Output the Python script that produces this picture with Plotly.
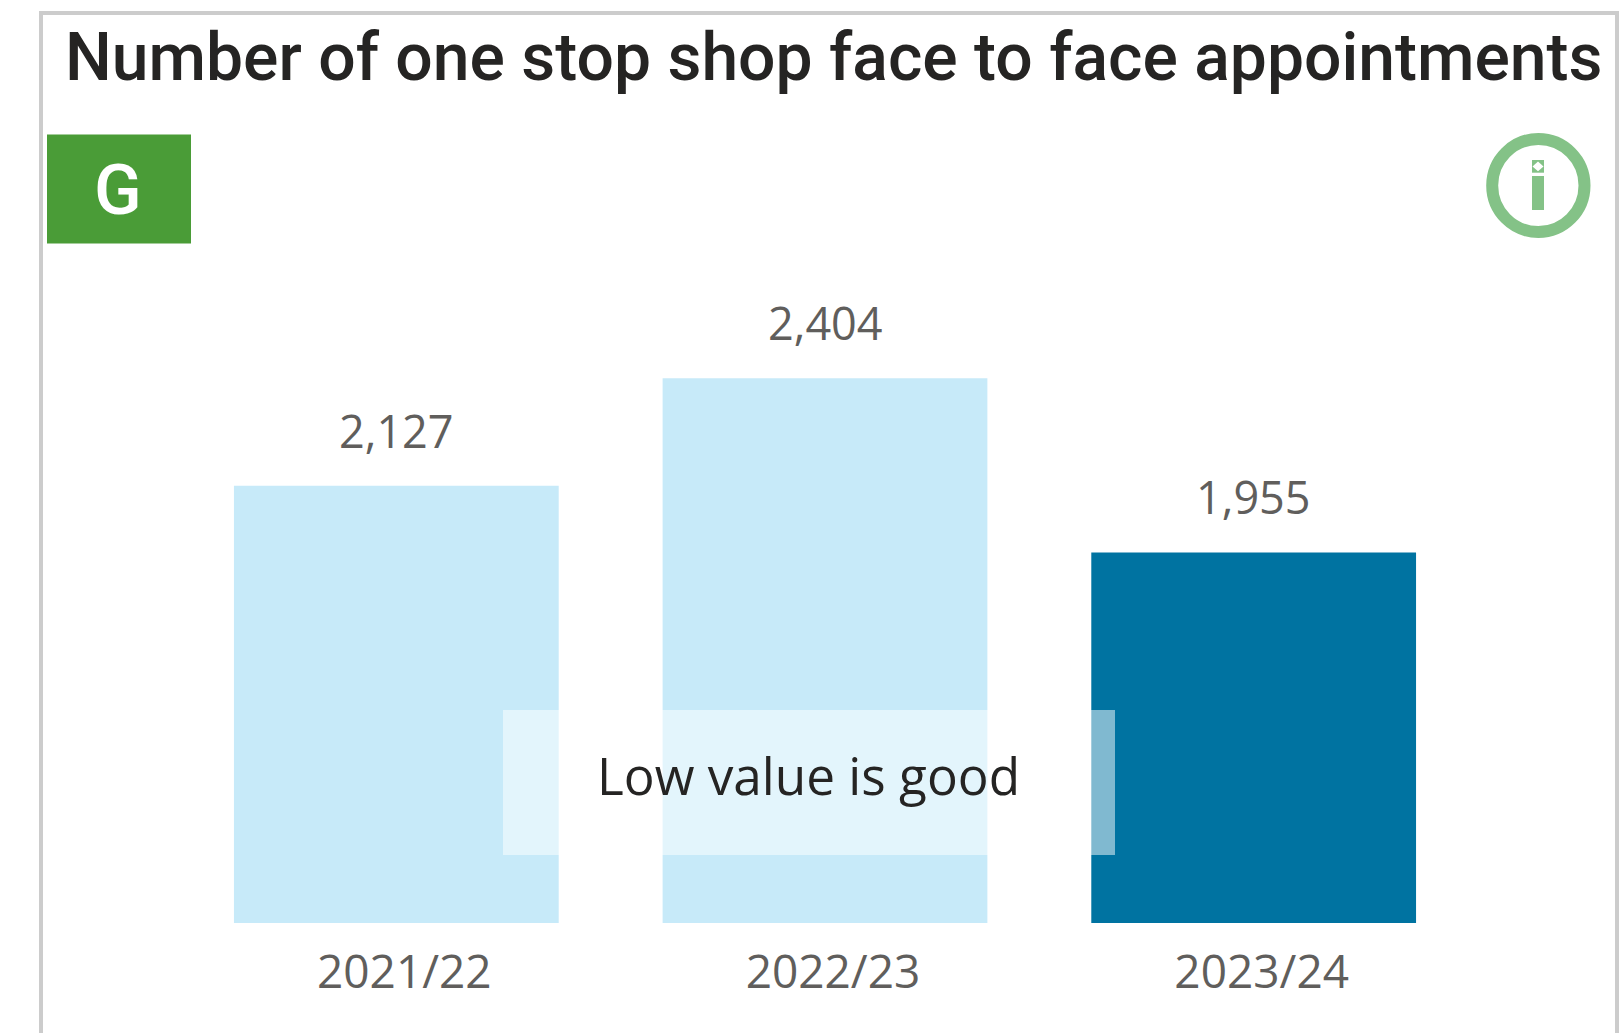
import plotly.graph_objects as go

# Data
categories = ["2021/22", "2022/23", "2023/24"]
appointments = [2127, 2404, 1955]
bar_colors = ["#c7eaf9", "#c7eaf9", "#0073a1"]
title_text = "Number of one stop shop face to face appointments"
note_text = "Low value is good"
rag_text = "G"

W, H = 1619, 1033
L, R, T, B = 182, 151, 299, 110
px = lambda x: (x - L) / (W - L - R)
py = lambda y: 1 - (y - T) / (H - T - B)

TICK = "#605e5c"
DARK = "#252423"
GREEN = "#84c287"
BODY = "Open Sans"

fig = go.Figure(go.Bar(
    x=categories, y=appointments, marker=dict(color=bar_colors, line_width=0),
    hoverinfo="skip", showlegend=False,
))


def rect(x0, y0, x1, y1, **kw):
    return dict(type="rect", xref="paper", yref="paper", x0=px(x0), x1=px(x1),
                y0=py(y0), y1=py(y1), line_width=0, layer="above", **kw)


shapes = [
    rect(39, 11, 43, 1033, fillcolor="#cccccc"),
    rect(39, 11, 1619, 15, fillcolor="#cccccc"),
    rect(1615, 11, 1619, 1033, fillcolor="#cccccc"),
    rect(47, 134.5, 191, 243.5, fillcolor="#4a9c37"),
    rect(503, 710, 1115, 855, fillcolor="rgba(255,255,255,0.5)"),
    dict(type="circle", xref="paper", yref="paper", x0=px(1492.2), x1=px(1584.5), y0=py(139), y1=py(232),
         line=dict(color=GREEN, width=12), fillcolor="rgba(0,0,0,0)", layer="above"),
    rect(1532, 176, 1544, 210, fillcolor=GREEN),
    rect(1532, 160, 1544, 172.7, fillcolor=GREEN),
    dict(type="path", xref="paper", yref="paper", layer="above", line_width=0, fillcolor="white",
         path=f"M {px(1532.5)} {py(166.4)} L {px(1538)} {py(161.5)} L {px(1543.5)} {py(166.4)} L {px(1538)} {py(171.3)} Z"),
]

annotations = [
    dict(xref="x", yref="y", x=c, y=v, text=f"{v:,}", showarrow=False, xanchor="center", yanchor="bottom",
         yshift=23, font=dict(family=BODY, size=45, color=TICK))
    for c, v in zip(categories, appointments)
]
annotations += [
    dict(xref="paper", yref="paper", x=px(834), y=py(57), text=title_text, showarrow=False,
         xanchor="center", yanchor="middle", font=dict(family="Roboto", size=66, weight=500, color=DARK)),
    dict(xref="paper", yref="paper", x=px(118), y=py(190), text=rag_text, showarrow=False,
         xanchor="center", yanchor="middle", font=dict(family="Roboto", size=70, weight=500, color="white")),
    dict(xref="paper", yref="paper", x=px(808), y=py(775), text=note_text, showarrow=False,
         xanchor="center", yanchor="middle", font=dict(family=BODY, size=51.3, color=DARK)),
]

fig.update_layout(
    width=W, height=H, margin=dict(l=L, r=R, t=T, b=B, pad=0, autoexpand=False),
    paper_bgcolor="white", plot_bgcolor="white", bargap=0.2424,
    shapes=shapes, annotations=annotations,
    xaxis=dict(type="category", showgrid=False, zeroline=False, showline=False,
               ticks="outside", ticklen=9, tickcolor="rgba(0,0,0,0)", ticklabelshift=8,
               tickfont=dict(family=BODY, size=46, color=TICK)),
    yaxis=dict(range=[1000, 2608], visible=False),
)

fig.write_html("out.html", config={"displayModeBar": False},
               post_script="document.body.style.margin='0';document.body.style.overflow='hidden';")
